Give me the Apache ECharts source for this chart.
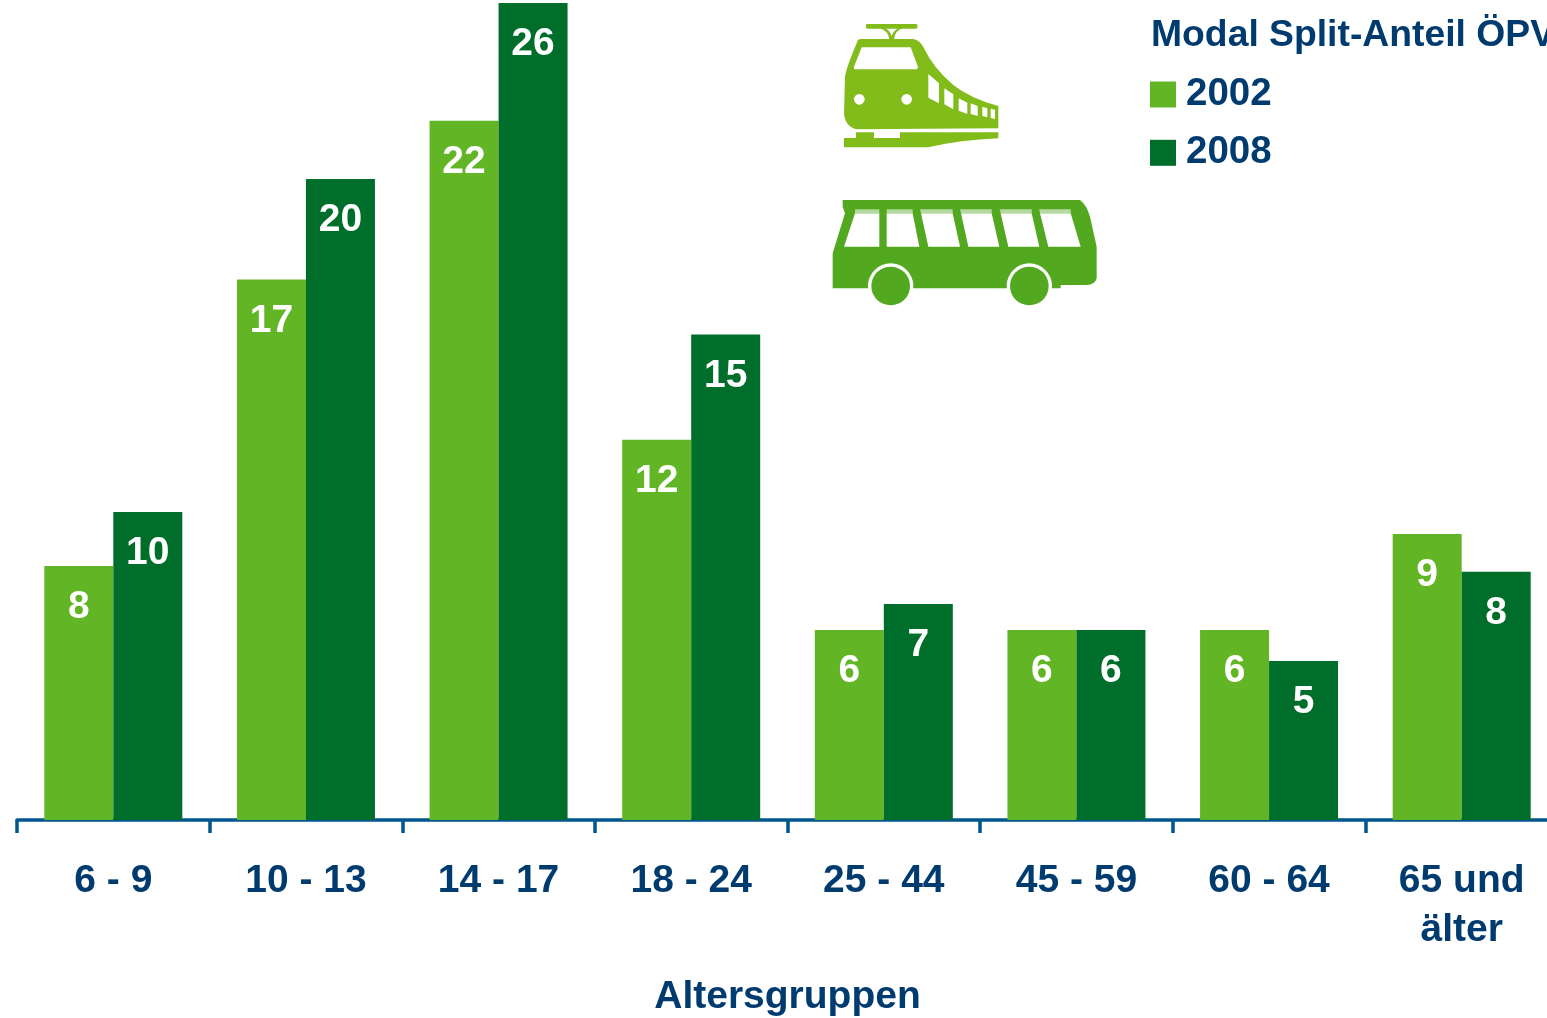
<!DOCTYPE html>
<html><head><meta charset="utf-8">
<style>html,body{margin:0;padding:0;background:#fff;overflow:hidden}#c{width:1547px;height:1018px}</style>
<script src="https://cdn.jsdelivr.net/npm/echarts@6/dist/echarts.min.js"></script>
</head><body><div id="c"></div>
<script>
const categories = ['6 - 9','10 - 13','14 - 17','18 - 24','25 - 44','45 - 59','60 - 64','65 und\nälter'];
const values2002 = [8.08, 17.2, 22.25, 12.1, 6.05, 6.05, 6.05, 9.1];
const values2008 = [9.8, 20.4, 26, 15.45, 6.87, 6.05, 5.06, 7.9];
const labels2002 = ['8','17','22','12','6','6','6','9'];
const labels2008 = ['10','20','26','15','7','6','5','8'];
const titleText = 'Modal Split-Anteil ÖPV';
const axisName = 'Altersgruppen';

const FONT = '"Liberation Sans", Arial, sans-serif';
const NAVY = '#003B70', AXIS = '#00568F', LIGHT = '#62B524', DARK = '#006E2B';
const TRAIN = '#82BC1A', BUS = '#52A81E';

const iconPaths = {
  pantoArms:'M175,84 Q205,90 208,118 L222,118 Q225,90 250,84 L236,84 Q220,92 215,108 Q210,92 195,84 Z',
  trainBody:'M120,117 L280,117 Q300,120 312,145 Q340,205 400,255 Q450,295 535,318 L535,385 L110,388 Q75,380 72,340 L75,230 Q80,200 110,130 Q113,118 120,117 Z',
  trainShield:'M125,142 L272,142 L294,200 Q294,208 285,208 L108,208 Q100,208 102,200 Z',
  trainTrack:'M108,397 L162,397 L162,414 L240,414 L240,397 L535,397 L535,415 Q420,420 325,442 L72,442 L72,414 L108,414 Z',
  busBody:'M68,600 L780,600 Q800,615 810,650 L830,740 L830,835 Q825,855 800,855 L722,855 L722,865 L38,865 L38,760 L75,640 L68,620 Z'
};
Object.keys(iconPaths).forEach(k => {
  echarts.graphic.registerShape(k, echarts.graphic.extendPath(iconPaths[k], {}));
});

function poly(pts, fill) {
  return {type:'polygon', shape:{points:pts}, style:{fill}};
}
function circ(cx, cy, r, fill) {
  return {type:'circle', shape:{cx, cy, r}, style:{fill}};
}
function pathEl(name, fill) {
  return {type:name, style:{fill}};
}
const trainIcon = {
  type:'group', x:820, y:0, scaleX:1/3, scaleY:1/3, silent:true,
  children:[
    {type:'rect', shape:{x:138,y:72,width:154,height:14,r:4}, style:{fill:TRAIN}},
    pathEl('pantoArms',TRAIN),
    pathEl('trainBody',TRAIN),
    pathEl('trainShield','#fff'),
    circ(118,298,16,'#fff'), circ(260,298,16,'#fff'),
    poly([[325,222],[357,250],[357,310],[325,293]],'#fff'),
    poly([[373,265],[400,283],[400,328],[373,313]],'#fff'),
    poly([[416,295],[442,308],[442,342],[416,332]],'#fff'),
    poly([[452,310],[473,318],[473,348],[452,342]],'#fff'),
    poly([[487,320],[502,325],[502,352],[487,348]],'#fff'),
    poly([[512,326],[525,329],[525,357],[512,354]],'#fff'),
    pathEl('trainTrack',TRAIN)
  ]
};
const busIcon = {
  type:'group', x:820, y:0, scaleX:1/3, scaleY:1/3, silent:true,
  children:[
    pathEl('busBody',BUS),
    poly([[105,640],[178,640],[178,740],[72,740]],'#fff'),
    poly([[200,640],[278,640],[298,740],[200,740]],'#fff'),
    poly([[303,640],[398,640],[420,740],[325,740]],'#fff'),
    poly([[423,640],[515,640],[538,740],[445,740]],'#fff'),
    poly([[542,640],[635,640],[658,740],[565,740]],'#fff'),
    poly([[660,640],[752,640],[782,740],[685,740]],'#fff'),
    poly([[105,628],[178,628],[178,640],[105,640]],'#B5D9A0'),
    poly([[200,628],[278,628],[278,640],[200,640]],'#B5D9A0'),
    poly([[300,628],[398,628],[398,640],[303,640]],'#B5D9A0'),
    poly([[420,628],[515,628],[515,640],[423,640]],'#B5D9A0'),
    poly([[539,628],[635,628],[635,640],[542,640]],'#B5D9A0'),
    poly([[657,628],[752,628],[752,640],[660,640]],'#B5D9A0'),
    circ(212,858,68,'#fff'), circ(628,858,68,'#fff'),
    circ(212,858,58,BUS), circ(628,858,58,BUS)
  ]
};

const labelStyle = (texts) => ({
  show:true, position:'insideTop', distance:21.5,
  color:'#fff', fontFamily:FONT, fontWeight:'bold', fontSize:39, lineHeight:40,
  formatter:(p) => texts[p.dataIndex]
});

const chart = echarts.init(document.getElementById('c'));
chart.setOption({
  animation:false,
  backgroundColor:'#fff',
  title:{text:titleText, left:1151, top:15, padding:0,
    textStyle:{color:NAVY, fontFamily:FONT, fontWeight:'bold', fontSize:37.3, lineHeight:42}},
  legend:{orient:'vertical', left:1150, top:75, padding:0, itemWidth:26, itemHeight:26, itemGap:19.3,
    icon:'rect', selectedMode:false, itemStyle:{borderWidth:0},
    textStyle:{color:NAVY, fontFamily:FONT, fontWeight:'bold', fontSize:38.5, lineHeight:26, padding:[3,0,0,5]},
    data:['2002','2008']},
  grid:{left:17, top:3, width:1541, height:817, containLabel:false, outerBoundsMode:'none'},
  xAxis:{type:'category', data:categories,
    axisLine:{show:true, lineStyle:{color:AXIS, width:3.5}},
    axisTick:{show:true, alignWithLabel:false, length:13, lineStyle:{color:AXIS, width:3.5}},
    axisLabel:{color:NAVY, fontFamily:FONT, fontWeight:'bold', fontSize:39, lineHeight:49, margin:37, interval:0},
    name:axisName, nameLocation:'middle', nameGap:158,
    nameTextStyle:{color:NAVY, fontFamily:FONT, fontWeight:'bold', fontSize:39}},
  yAxis:{type:'value', show:false, min:0, max:26, splitLine:{show:false}},
  series:[
    {name:'2002', type:'bar', data:values2002, barWidth:69, barGap:0, itemStyle:{color:LIGHT}, label:labelStyle(labels2002)},
    {name:'2008', type:'bar', data:values2008, barWidth:69, barGap:0, itemStyle:{color:DARK}, label:labelStyle(labels2008)}
  ],
  graphic:[trainIcon, busIcon]
});
</script></body></html>
